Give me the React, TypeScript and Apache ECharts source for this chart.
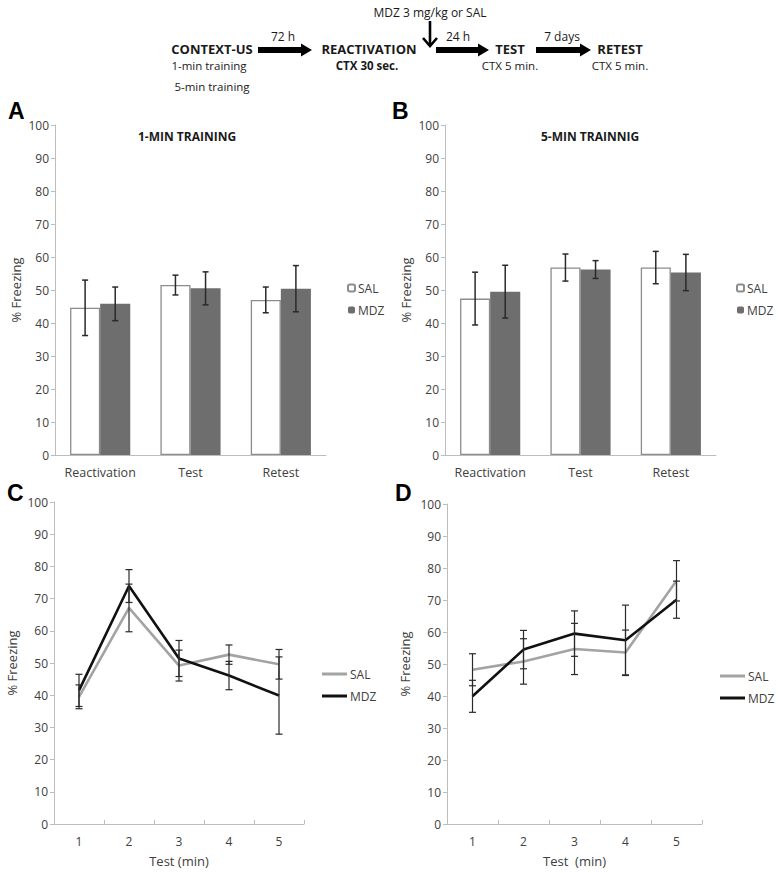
import React, { useEffect, useRef } from "react";
import * as echarts from "echarts";

// ---------- data ----------
const phases = ["Reactivation", "Test", "Retest"];
const aSal = [44.6, 51.5, 47.0];
const aSalErr = [8.4, 3.0, 3.9];
const aMdz = [45.8, 50.5, 50.4];
const aMdzErr = [5.1, 5.0, 7.0];
const bSal = [47.4, 56.8, 56.8];
const bSalErr = [8.0, 4.1, 4.9];
const bMdz = [49.5, 56.2, 55.3];
const bMdzErr = [8.0, 2.7, 5.5];

const minutes = ["1", "2", "3", "4", "5"];
const cSal = [39.5, 67.1, 49.2, 52.6, 49.6];
const cSalErr = [3.7, 7.4, 4.8, 3.0, 4.6];
const cMdz = [41.5, 73.9, 51.4, 46.1, 39.9];
const cMdzErr = [5.0, 5.1, 5.6, 4.4, 12.0];
const dSal = [48.2, 50.8, 54.7, 53.6, 76.0];
const dSalErr = [5.0, 7.1, 8.0, 7.0, 6.3];
const dMdz = [39.9, 54.5, 59.5, 57.4, 70.1];
const dMdzErr = [5.0, 6.0, 7.1, 11.0, 5.8];

const yTicks = { min: 0, max: 100, interval: 10 };

// ---------- styles ----------
const FONT = "Open Sans";
const axisGray = "#bdbdbd";
const labelColor = "#404040";
const salBarBorder = "#8c8c8c";
const mdzBar = "#6e6e6e";
const salLine = "#a3a3a3";
const mdzLine = "#111111";
const errColor = "#2a2a2a";

const errData = (vals: number[], errs: number[]) =>
  vals.map((v, i) => [i, v - errs[i], v + errs[i]]);

const errRender = (offsetFrac: number, capHalf: number, lw: number) =>
  (params: any, api: any) => {
    const idx = api.value(0);
    const lo = api.coord([idx, api.value(1)]);
    const hi = api.coord([idx, api.value(2)]);
    const band = api.size([1, 0])[0];
    const cx = lo[0] + band * offsetFrac;
    const st = { stroke: errColor, lineWidth: lw };
    return {
      type: "group",
      children: [
        { type: "line", shape: { x1: cx, y1: lo[1], x2: cx, y2: hi[1] }, style: st },
        { type: "line", shape: { x1: cx - capHalf, y1: lo[1], x2: cx + capHalf, y2: lo[1] }, style: st },
        { type: "line", shape: { x1: cx - capHalf, y1: hi[1], x2: cx + capHalf, y2: hi[1] }, style: st },
      ],
    };
  };

const errSeries = (name: string, idx: number, vals: number[], errs: number[], off: number, capHalf: number, lw: number) => ({
  name,
  type: "custom",
  xAxisIndex: idx,
  yAxisIndex: idx,
  renderItem: errRender(off, capHalf, lw),
  data: errData(vals, errs),
  encode: { x: 0, y: [1, 2] },
  z: 5,
  silent: true,
});

const yAxisCfg = (gridIndex: number, nameGap: number) => ({
  gridIndex,
  type: "value",
  ...yTicks,
  name: "% Freezing",
  nameLocation: "middle",
  nameGap,
  nameRotate: 90,
  nameTextStyle: { fontSize: 13, color: labelColor, fontFamily: FONT },
  axisLine: { show: true, lineStyle: { color: axisGray, width: 1 } },
  axisTick: { show: true, length: 4, lineStyle: { color: axisGray } },
  splitLine: { show: false },
  axisLabel: { fontSize: 12, color: labelColor, margin: 6, fontFamily: FONT },
});

const barXAxis = (gridIndex: number) => ({
  gridIndex,
  type: "category",
  data: phases,
  axisTick: { show: false },
  axisLine: { lineStyle: { color: axisGray, width: 1 } },
  axisLabel: { interval: 0, fontSize: 12.5, color: labelColor, margin: 11, fontFamily: FONT },
});

const lineXAxis = (gridIndex: number, name: string) => ({
  gridIndex,
  type: "category",
  data: minutes,
  name,
  nameLocation: "middle",
  nameGap: 30,
  nameTextStyle: { fontSize: 13, color: labelColor, fontFamily: FONT },
  axisTick: { show: true, inside: true, length: 4, lineStyle: { color: axisGray } },
  axisLine: { lineStyle: { color: axisGray, width: 1 } },
  axisLabel: { interval: 0, fontSize: 12, color: labelColor, margin: 11, fontFamily: FONT },
});

const barSeries = (prefix: string, idx: number, sal: number[], mdz: number[]) => [
  {
    name: prefix + "-SAL",
    type: "bar",
    xAxisIndex: idx,
    yAxisIndex: idx,
    data: sal,
    barGap: "0%",
    barCategoryGap: "33.4%",
    itemStyle: { color: "#ffffff", borderColor: salBarBorder, borderWidth: 1.3 },
  },
  {
    name: prefix + "-MDZ",
    type: "bar",
    xAxisIndex: idx,
    yAxisIndex: idx,
    data: mdz,
    barGap: "0%",
    barCategoryGap: "33.4%",
    itemStyle: { color: mdzBar },
  },
];

const lineSeries = (prefix: string, idx: number, sal: number[], mdz: number[]) => [
  {
    name: prefix + "-SAL",
    type: "line",
    xAxisIndex: idx,
    yAxisIndex: idx,
    data: sal,
    symbol: "none",
    lineStyle: { color: salLine, width: 2.6 },
    itemStyle: { color: salLine },
    z: 3,
  },
  {
    name: prefix + "-MDZ",
    type: "line",
    xAxisIndex: idx,
    yAxisIndex: idx,
    data: mdz,
    symbol: "none",
    lineStyle: { color: mdzLine, width: 2.6 },
    itemStyle: { color: mdzLine },
    z: 4,
  },
];

const legendCfg = (prefix: string, left: number, top: number, w: number, h: number, icon?: string) => ({
  orient: "vertical",
  left,
  top,
  itemWidth: w,
  itemHeight: h,
  itemGap: 10,
  selectedMode: false,
  ...(icon ? { icon } : {}),
  data: [prefix + "-SAL", prefix + "-MDZ"],
  formatter: (n: string) => n.split("-")[1],
  textStyle: { fontSize: 12, color: labelColor, fontFamily: FONT, padding: [0, 0, 0, -2] },
});

// schematic helpers (annotation graphics)
const hArrow = (x0: number, x1: number, y: number) => ({
  type: "polygon",
  shape: {
    points: [
      [x0, y - 3], [x1 - 11, y - 3], [x1 - 11, y - 6.5], [x1, y],
      [x1 - 11, y + 6.5], [x1 - 11, y + 3], [x0, y + 3],
    ],
  },
  style: { fill: "#000" },
});

const txt = (text: string, x: number, y: number, size: number, bold = false, align = "center") => ({
  type: "text",
  x,
  y,
  style: {
    text,
    fontSize: size,
    fontWeight: bold ? "bold" : "normal",
    fontFamily: FONT,
    fill: "#1a1a1a",
    align,
    verticalAlign: "middle",
  },
});

const letter = (t: string, x: number, y: number) => ({
  type: "text",
  x,
  y,
  style: { text: t, fontSize: 23, fontWeight: "bold", fontFamily: "Liberation Sans", fill: "#000", verticalAlign: "top" },
});

export default function App() {
  const ref = useRef<HTMLDivElement>(null);
  useEffect(() => {
    if (!ref.current) return;
    const chart = echarts.init(ref.current, undefined, { renderer: "svg" });
    const option: any = {
      animation: false,
      textStyle: { fontFamily: FONT },
      grid: [
        { left: 55, top: 125, width: 271, height: 330 },
        { left: 445, top: 125, width: 271, height: 330 },
        { left: 54, top: 502, width: 250, height: 322 },
        { left: 447, top: 504, width: 255, height: 320 },
      ],
      xAxis: [barXAxis(0), barXAxis(1), lineXAxis(2, "Test (min)"), lineXAxis(3, "Test  (min)")],
      yAxis: [yAxisCfg(0, 33), yAxisCfg(1, 33), yAxisCfg(2, 36), yAxisCfg(3, 36)],
      legend: [
        legendCfg("A", 342, 277, 7, 7),
        legendCfg("B", 731, 277, 7, 7),
        legendCfg("C", 317, 663, 25, 3, "rect"),
        legendCfg("D", 715, 665, 25, 3, "rect"),
      ],
      series: [
        ...barSeries("A", 0, aSal, aMdz),
        errSeries("A-SAL-err", 0, aSal, aSalErr, -1 / 6, 3, 1.5),
        errSeries("A-MDZ-err", 0, aMdz, aMdzErr, 1 / 6, 3, 1.5),
        ...barSeries("B", 1, bSal, bMdz),
        errSeries("B-SAL-err", 1, bSal, bSalErr, -1 / 6, 3, 1.5),
        errSeries("B-MDZ-err", 1, bMdz, bMdzErr, 1 / 6, 3, 1.5),
        ...lineSeries("C", 2, cSal, cMdz),
        errSeries("C-SAL-err", 2, cSal, cSalErr, 0, 3.5, 1.2),
        errSeries("C-MDZ-err", 2, cMdz, cMdzErr, 0, 3.5, 1.2),
        ...lineSeries("D", 3, dSal, dMdz),
        errSeries("D-SAL-err", 3, dSal, dSalErr, 0, 3.5, 1.2),
        errSeries("D-MDZ-err", 3, dMdz, dMdzErr, 0, 3.5, 1.2),
      ],
      graphic: [
        // schematic
        txt("MDZ 3 mg/kg or SAL", 430, 12, 12),
        { type: "line", shape: { x1: 430, y1: 21, x2: 430, y2: 46 }, style: { stroke: "#000", lineWidth: 2.6 } },
        { type: "polyline", shape: { points: [[423, 38], [430, 46], [437, 38]] }, style: { stroke: "#000", lineWidth: 2.6, fill: "none" } },
        txt("CONTEXT-US", 212, 49, 13, true),
        txt("1-min training", 209, 65, 11.5),
        txt("5-min training", 212, 86, 11.5),
        hArrow(258, 312, 50),
        txt("72 h", 283, 36, 12),
        txt("REACTIVATION", 369, 49, 13, true),
        txt("CTX 30 sec.", 367, 65, 11.5, true),
        hArrow(436, 489, 50),
        txt("24 h", 458, 36, 12),
        txt("TEST", 510, 49, 13, true),
        txt("CTX 5 min.", 510, 65, 11.5),
        hArrow(536, 591, 50),
        txt("7 days", 562, 36, 12),
        txt("RETEST", 620, 49, 13, true),
        txt("CTX 5 min.", 620, 65, 11.5),
        // panel letters
        letter("A", 8, 99),
        letter("B", 392, 99),
        letter("C", 7, 481),
        letter("D", 395, 481),
        // panel titles
        txt("1-MIN TRAINING", 187, 136, 12, true),
        txt("5-MIN TRAINNIG", 590, 136, 12, true),
      ],
    };
    chart.setOption(option);
    return () => chart.dispose();
  }, []);
  return (
    <div
      ref={ref}
      style={{ position: "absolute", left: 0, top: 0, width: 778, height: 873, background: "#fff" }}
    />
  );
}
